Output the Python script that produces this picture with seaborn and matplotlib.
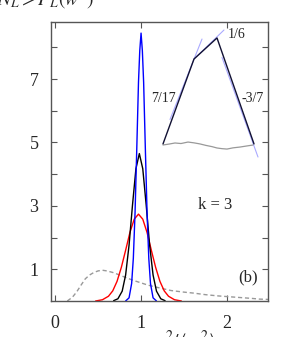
import numpy as np
import pandas as pd
import matplotlib
matplotlib.use("Agg")
import matplotlib.pyplot as plt
import seaborn as sb

# main panel curves
x_blue = [0.82, 0.86, 0.89, 0.91, 0.93, 0.95, 0.97, 0.985, 1.0, 1.015, 1.03, 1.05, 1.07, 1.09, 1.11, 1.14, 1.18]
y_blue = [0.0, 0.10, 0.55, 1.35, 2.79, 4.80, 6.90, 7.90, 8.45, 7.90, 6.90, 4.80, 2.79, 1.35, 0.55, 0.10, 0.0]

x_black = [0.68, 0.73, 0.78, 0.82, 0.86, 0.90, 0.94, 0.98, 1.02, 1.06, 1.10, 1.14, 1.18, 1.23, 1.28]
y_black = [0.01, 0.07, 0.31, 0.82, 1.76, 3.02, 4.17, 4.65, 4.17, 3.02, 1.76, 0.82, 0.31, 0.07, 0.01]

x_red = [0.47, 0.55, 0.62, 0.67, 0.72, 0.77, 0.82, 0.87, 0.92, 0.97, 1.02, 1.07, 1.12, 1.17, 1.22, 1.27, 1.32, 1.39, 1.47]
y_red = [0.0, 0.04, 0.15, 0.32, 0.62, 1.06, 1.60, 2.16, 2.58, 2.74, 2.58, 2.16, 1.60, 1.06, 0.62, 0.32, 0.15, 0.04, 0.0]

x_gray = [0.14, 0.20, 0.25, 0.30, 0.35, 0.40, 0.45, 0.50, 0.55, 0.60, 0.67, 0.75, 0.83, 0.91, 0.99,
          1.07, 1.14, 1.22, 1.35, 1.50, 1.61, 1.75, 1.90, 2.00, 2.15, 2.30, 2.38, 2.48]
y_gray = [0.0, 0.12, 0.29, 0.50, 0.70, 0.82, 0.90, 0.95, 0.97, 0.95, 0.90, 0.82, 0.73, 0.65, 0.58,
          0.51, 0.46, 0.41, 0.33, 0.28, 0.25, 0.20, 0.16, 0.14, 0.11, 0.08, 0.06, 0.05]

y_ticks = [1, 3, 5, 7]
y_minor = [2, 4, 6, 8]
x_ticks = [0, 1, 2]

# inset (arbitrary units)
in_x = [0.03, 0.34, 0.57, 0.94]
in_y = [0.119, 0.748, 0.904, 0.119]
fit1_x = [0.10, 0.42]
fit1_y = [0.30, 0.896]
fit2_x = [0.34, 0.64]
fit2_y = [0.748, 0.963]
fit3_x = [0.62, 0.98]
fit3_y = [0.76, 0.022]
noise_x = [0.03, 0.09, 0.15, 0.21, 0.28, 0.34, 0.40, 0.46, 0.52, 0.57, 0.62, 0.67, 0.73, 0.80, 0.86, 0.93]
noise_y = [0.111, 0.118, 0.126, 0.122, 0.133, 0.127, 0.119, 0.108, 0.099, 0.089, 0.084, 0.081, 0.090, 0.096, 0.103, 0.111]
slope_labels = ["1/6", "7/17", "-3/7"]

sb.set_style("ticks")
plt.rcParams["font.family"] = ["Liberation Serif", "DejaVu Serif"]
plt.rcParams["mathtext.fontset"] = "stix"

fig = plt.figure(figsize=(2.99, 3.37), dpi=100)
ax = fig.add_axes([51/299, 1-301/337, 217/299, 279/337])

sb.lineplot(x=x_gray, y=y_gray, ax=ax, color="#999999", linewidth=1.0, linestyle=(0, (3, 2)), sort=False)
sb.lineplot(x=x_red, y=y_red, ax=ax, color="red", linewidth=1.0, sort=False)
sb.lineplot(x=x_black, y=y_black, ax=ax, color="black", linewidth=1.0, sort=False)
sb.lineplot(x=x_blue, y=y_blue, ax=ax, color="blue", linewidth=1.0, sort=False)

ax.set_xlim(-0.05, 2.48)
ax.set_ylim(0, 8.8)
ax.set_xticks(x_ticks)
ax.set_yticks(y_ticks)
ax.set_yticks(y_minor, minor=True)
ax.tick_params(which="both", direction="in", top=True, right=True, length=4, width=0.8,
               color="#555555", labelsize=13)
ax.tick_params(axis="y", pad=9)
ax.tick_params(axis="x", pad=10)
for s in ax.spines.values():
    s.set_color("#555555")
    s.set_linewidth(1.0)
ax.set_xlabel("")
ax.set_ylabel("")

ax.text(0.756, 0.344, "k = 3", transform=ax.transAxes, ha="center", va="center", fontsize=12)
ax.text(0.908, 0.086, "(b)", transform=ax.transAxes, ha="center", va="center", fontsize=12)

# inset
ax_in = fig.add_axes([160/299, 1-160/337, 100/299, 135/337])
ax_in.axis("off")
ax_in.set_xlim(0, 1)
ax_in.set_ylim(0, 1)
for fx, fy in [(fit1_x, fit1_y), (fit2_x, fit2_y), (fit3_x, fit3_y)]:
    sb.lineplot(x=fx, y=fy, ax=ax_in, color="#aaaaff", linewidth=0.8, sort=False)
sb.lineplot(x=noise_x, y=noise_y, ax=ax_in, color="#999999", linewidth=0.9, sort=False)
sb.lineplot(x=in_x, y=in_y, ax=ax_in, color="#111133", linewidth=1.0, sort=False)
ax_in.text(0.68, 0.93, slope_labels[0], ha="left", va="center", fontsize=10)
ax_in.text(0.03, 0.459, slope_labels[1], ha="center", va="center", fontsize=10)
ax_in.text(0.93, 0.459, slope_labels[2], ha="center", va="center", fontsize=10)

# cropped labels at top and bottom (cut by the figure edge, as in the source)
fig.text(-0.01, 1-6/337, r"$N_L > P_L(w^2)$", ha="left", va="baseline", fontsize=14)
fig.text(184/299, 1-329/337, r"$w^2/\langle w^2\rangle$", ha="center", va="top", fontsize=14)

fig.savefig("out.png", dpi=100)
